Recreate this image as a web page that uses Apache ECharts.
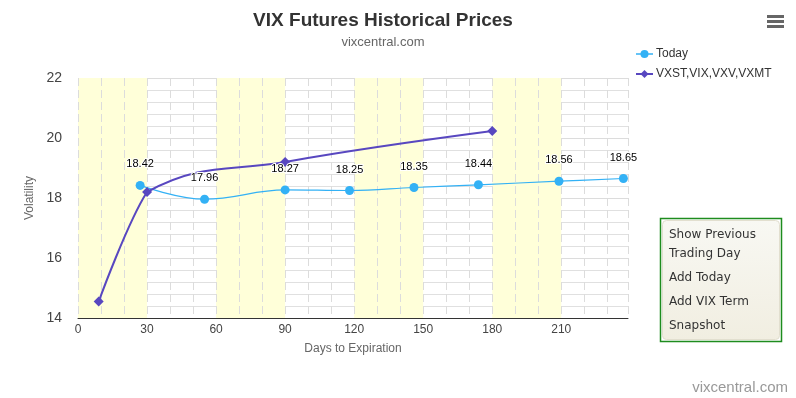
<!DOCTYPE html>
<html>
<head>
<meta charset="utf-8">
<script src="https://cdn.jsdelivr.net/npm/echarts@6/dist/echarts.min.js"></script>
<style>
html, body { margin: 0; padding: 0; background: #fff; }
#chart { width: 796px; height: 398px; }
</style>
</head>
<body>
<div id="chart"></div>
<script>
// days to expiration / volatility
var todayDays = [27, 55, 90, 118, 146, 174, 209, 237];
var todayValues = [18.42, 17.96, 18.27, 18.25, 18.35, 18.44, 18.56, 18.65];
var termDays = [9, 30, 90, 180];
var termValues = [14.55, 18.2, 19.2, 20.23];
var seriesNames = ['Today', 'VXST,VIX,VXV,VXMT'];
var seriesColors = ['#33b1f5', '#5847c0'];
var menuItems = ['Show Previous', 'Trading Day', 'Add Today', 'Add VIX Term', 'Snapshot'];

function pairs(xs, ys) {
	var out = [];
	for (var i = 0; i < xs.length; i++) out.push([xs[i], ys[i]]);
	return out;
}

// spline control points in the style of the original chart (smoothing 1.5, no overshoot)
function splineControls(pts, i) {
	var p = pts[i], a = pts[i - 1], b = pts[i + 1];
	if (!a || !b) return null;
	var lx = (1.5 * p[0] + a[0]) / 2.5, ly = (1.5 * p[1] + a[1]) / 2.5;
	var rx = (1.5 * p[0] + b[0]) / 2.5, ry = (1.5 * p[1] + b[1]) / 2.5;
	var corr = 0;
	if (rx !== lx) corr = ((ry - ly) * (rx - p[0])) / (rx - lx) + p[1] - ry;
	ly += corr;
	ry += corr;
	if (ly > a[1] && ly > p[1]) { ly = Math.max(a[1], p[1]); ry = 2 * p[1] - ly; }
	else if (ly < a[1] && ly < p[1]) { ly = Math.min(a[1], p[1]); ry = 2 * p[1] - ly; }
	if (ry > b[1] && ry > p[1]) { ry = Math.max(b[1], p[1]); ly = 2 * p[1] - ry; }
	else if (ry < b[1] && ry < p[1]) { ry = Math.min(b[1], p[1]); ly = 2 * p[1] - ry; }
	return { l : [lx, ly], r : [rx, ry] };
}

function splineSeries(xs, ys, color, width) {
	return {
		type : 'custom',
		coordinateSystem : 'cartesian2d',
		silent : true,
		z : 1,
		data : pairs(xs, ys),
		encode : { x : 0, y : 1 },
		renderItem : function (params, api) {
			var i = params.dataIndex;
			if (i === 0) return null;
			var pts = [];
			for (var k = 0; k < xs.length; k++) pts.push(api.coord([xs[k], ys[k]]));
			var c0 = splineControls(pts, i - 1);
			var c1 = splineControls(pts, i);
			var cp1 = c0 ? c0.r : pts[i - 1];
			var cp2 = c1 ? c1.l : pts[i];
			return {
				type : 'bezierCurve',
				shape : {
					x1 : pts[i - 1][0], y1 : pts[i - 1][1],
					x2 : pts[i][0], y2 : pts[i][1],
					cpx1 : cp1[0], cpy1 : cp1[1],
					cpx2 : cp2[0], cpy2 : cp2[1]
				},
				style : { stroke : color, lineWidth : width, fill : 'none' }
			};
		}
	};
}

var chart = echarts.init(document.getElementById('chart'));

var menuGraphics = [{
	type : 'rect',
	shape : { x : 660.5, y : 218.5, width : 121, height : 123 },
	style : { fill : 'none', stroke : '#1e8c1e', lineWidth : 1.5 }
}, {
	type : 'rect',
	shape : { x : 662.5, y : 220.5, width : 117, height : 119, r : 4 },
	style : {
		stroke : '#e2dfcf',
		lineWidth : 1,
		fill : new echarts.graphic.LinearGradient(0, 0, 0, 1, [
			{ offset : 0, color : '#f8f8f3' },
			{ offset : 1, color : '#f1eee1' }
		])
	}
}];
var menuY = [235, 254, 278, 302, 326];
for (var m = 0; m < menuItems.length; m++) {
	menuGraphics.push({
		type : 'text',
		x : 669,
		y : menuY[m],
		style : {
			text : menuItems[m],
			fill : '#333',
			font : '12px "DejaVu Sans"',
			verticalAlign : 'middle'
		}
	});
}

chart.setOption({
	animation : false,
	textStyle : { fontFamily : '"Liberation Sans", Arial, sans-serif' },
	title : {
		text : 'VIX Futures Historical Prices',
		subtext : 'vixcentral.com',
		left : 378,
		textAlign : 'center',
		top : 6,
		itemGap : 6,
		textStyle : { fontSize : 19, fontWeight : 'bold', color : '#333' },
		subtextStyle : { fontSize : 13, color : '#666' }
	},
	legend : {
		orient : 'vertical',
		left : 630,
		top : 43,
		itemGap : 8,
		itemWidth : 17,
		itemHeight : 10,
		textStyle : { fontSize : 12, color : '#333', padding : [0, 0, 0, -2] },
		data : [
			{ name : seriesNames[0], lineStyle : { opacity : 1, width : 1.5, color : seriesColors[0] } },
			{ name : seriesNames[1], lineStyle : { opacity : 1, width : 2, color : seriesColors[1] } }
		]
	},
	grid : {
		left : 78,
		top : 78,
		width : 550,
		height : 240
	},
	xAxis : {
		type : 'value',
		min : 0,
		max : 239,
		interval : 30,
		name : 'Days to Expiration',
		nameLocation : 'middle',
		nameGap : 25,
		nameTextStyle : { fontSize : 12, color : '#666' },
		axisLine : { show : true, onZero : false, lineStyle : { color : '#333', width : 1 } },
		axisTick : { show : false },
		axisLabel : { fontSize : 12, color : '#444', margin : 6, showMaxLabel : false },
		splitLine : { show : true, lineStyle : { color : '#dcdcdc', type : [8, 4] } },
		minorTick : { show : false, splitNumber : 3 },
		minorSplitLine : { show : true, lineStyle : { color : '#dcdcdc', type : [8, 4] } },
		splitArea : { show : true, areaStyle : { color : ['#ffffd9', 'rgba(0,0,0,0)'] } }
	},
	yAxis : {
		type : 'value',
		min : 14,
		max : 22,
		interval : 2,
		name : 'Volatility',
		nameLocation : 'middle',
		nameGap : 33,
		nameTextStyle : { fontSize : 12, color : '#666' },
		axisLine : { show : false },
		axisTick : { show : false },
		axisLabel : { fontSize : 14, color : '#444', margin : 16 },
		splitLine : { show : true, lineStyle : { color : '#dcdcdc' } },
		minorTick : { show : false, splitNumber : 5 },
		minorSplitLine : { show : true, lineStyle : { color : '#e0e0e0' } }
	},
	series : [{
		name : seriesNames[0],
		type : 'line',
		data : pairs(todayDays, todayValues),
		symbol : 'circle',
		symbolSize : 9,
		color : seriesColors[0],
		lineStyle : { width : 0, opacity : 0 },
		label : {
			show : true,
			position : 'top',
			distance : 11,
			fontSize : 11,
			color : '#000',
			textBorderColor : '#fff',
			textBorderWidth : 2
		},
		z : 4
	}, {
		name : seriesNames[1],
		type : 'line',
		data : pairs(termDays, termValues),
		symbol : 'diamond',
		symbolSize : 10,
		color : seriesColors[1],
		lineStyle : { width : 0, opacity : 0 },
		z : 3
	},
	splineSeries(todayDays, todayValues, seriesColors[0], 1.2),
	splineSeries(termDays, termValues, seriesColors[1], 2)
	],
	graphic : [{
		type : 'group',
		children : [
			{ type : 'rect', shape : { x : 767, y : 15, width : 17, height : 3 }, style : { fill : '#666' } },
			{ type : 'rect', shape : { x : 767, y : 20, width : 17, height : 3 }, style : { fill : '#666' } },
			{ type : 'rect', shape : { x : 767, y : 25, width : 17, height : 3 }, style : { fill : '#666' } }
		]
	}, {
		type : 'group',
		children : menuGraphics
	}, {
		type : 'text',
		right : 8,
		bottom : 3,
		style : {
			text : 'vixcentral.com',
			fill : '#999',
			font : '15px "Liberation Sans", Arial, sans-serif'
		}
	}]
});
</script>
</body>
</html>
